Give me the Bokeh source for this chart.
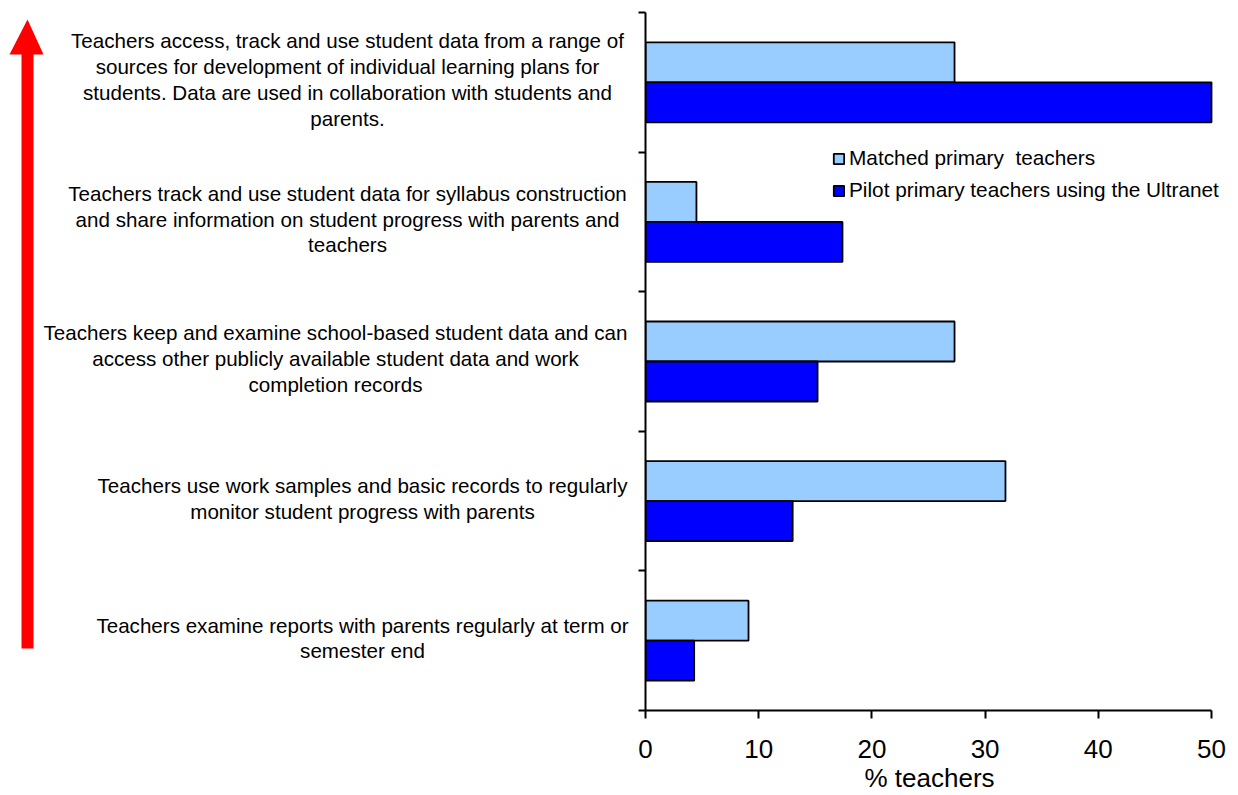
import numpy as np
from bokeh.plotting import figure
from bokeh.layouts import row
from bokeh.models import (Range1d, FixedTicker, Legend, LegendItem, ColumnDataSource,
                          CustomJSTickFormatter, Title)
from bokeh.core.properties import value
from bokeh.embed import file_html
from bokeh.resources import INLINE

# Levels of data use, listed from the bottom of the chart to the top
categories = [
    "Teachers examine reports with parents regularly at term or\nsemester end",
    "Teachers use work samples and basic records to regularly\nmonitor student progress with parents",
    "Teachers keep and examine school-based student data and can\naccess other publicly available student data and work\ncompletion records",
    "Teachers track and use student data for syllabus construction\nand share information on student progress with parents and\nteachers",
    "Teachers access, track and use student data from a range of\nsources for development of individual learning plans for\nstudents. Data are used in collaboration with students and\nparents.",
]
matched = [9.1, 31.8, 27.3, 4.5, 27.3]
pilot = [4.3, 13.0, 15.2, 17.4, 50.0]
series_names = ["Matched primary  teachers", "Pilot primary teachers using the Ultranet"]
x_ticks = [0, 10, 20, 30, 40, 50]
x_title = "% teachers"

FONT = "Liberation Sans"
LIGHT = "#99CCFF"
DARK = "#0000FF"

W, H = 1238, 795
TOP, BOTTOM = 12, 85
AXIS_GAP = 12           # room kept for the y-axis ticks of the bar panel
LABEL_W = 645 - AXIS_GAP
RIGHT_PAD = 4
XMAX = 50
AXIS_PX = 566           # drawn length of the 0-50 axis
n = len(categories)
y_range = Range1d(0, n)

# the frame runs a little past 50 so the legend text is not cut
frame_w = W - LABEL_W - AXIS_GAP - RIGHT_PAD
x_end = XMAX * frame_w / AXIS_PX

# ---- bar panel -------------------------------------------------------------
p = figure(width=W - LABEL_W, height=H, x_range=Range1d(0, x_end), y_range=y_range,
           output_backend="svg", toolbar_location=None,
           min_border_left=AXIS_GAP, min_border_right=RIGHT_PAD,
           min_border_top=TOP, min_border_bottom=BOTTOM)
p.outline_line_color = None
p.grid.visible = False

# Two bars per level: matched above, pilot below the band centre
centers = np.arange(n) + 0.5
bar_h = 0.2865
src = ColumnDataSource(dict(
    y_m=centers + bar_h / 2, y_p=centers - bar_h / 2,
    matched=matched, pilot=pilot))
r_m = p.hbar(y="y_m", right="matched", left=0, height=bar_h, source=src,
             fill_color=LIGHT, line_color="black", line_width=1.8)
r_p = p.hbar(y="y_p", right="pilot", left=0, height=bar_h, source=src,
             fill_color=DARK, line_color="black", line_width=1.8)

xa = p.xaxis[0]
xa.ticker = FixedTicker(ticks=x_ticks)
xa.bounds = (0, XMAX)
xa.minor_tick_line_color = None
xa.major_tick_in = 0
xa.major_tick_out = 8
xa.axis_line_width = 2
xa.major_tick_line_width = 2
xa.axis_line_color = "black"
xa.major_tick_line_color = "black"
xa.major_label_text_font = FONT
xa.major_label_text_font_size = "26px"
xa.major_label_text_color = "black"
xa.major_label_standoff = 21

# axis title centred under the 0-50 span rather than under the whole frame
title_font_px = 26
title_w = 128
p.add_layout(Title(text=x_title, align="left",
                   offset=AXIS_PX / 2 - title_w / 2,
                   text_font=FONT, text_font_size=f"{title_font_px}px",
                   text_font_style="normal", text_color="black",
                   standoff=0), "below")

ya = p.yaxis[0]
ya.ticker = FixedTicker(ticks=list(range(n + 1)))
ya.formatter = CustomJSTickFormatter(code="return ''")
ya.minor_tick_line_color = None
ya.major_tick_in = 0
ya.major_tick_out = 7
ya.axis_line_width = 2
ya.major_tick_line_width = 2
ya.axis_line_color = "black"
ya.major_tick_line_color = "black"
ya.major_label_standoff = 0

legend = Legend(items=[LegendItem(label=series_names[0], renderers=[r_m]),
                       LegendItem(label=series_names[1], renderers=[r_p])],
                location=(187, 508), orientation="vertical")
legend.glyph_width = 13
legend.glyph_height = 13
legend.label_standoff = 4
legend.spacing = 8
legend.padding = 0
legend.margin = 0
legend.border_line_color = None
legend.background_fill_alpha = 0
legend.label_text_font = FONT
legend.label_text_font_size = "20.8px"
legend.label_text_color = "black"
legend.label_height = 24
p.add_layout(legend)

# ---- label panel -----------------------------------------------------------
q = figure(width=LABEL_W, height=H, x_range=Range1d(0, LABEL_W), y_range=y_range,
           output_backend="svg", toolbar_location=None,
           min_border_left=0, min_border_right=0,
           min_border_top=TOP, min_border_bottom=BOTTOM)
q.axis.visible = False
q.grid.visible = False
q.outline_line_color = None

# each label block is centred on its own column, right-aligned as a block
label_centers = [362, 362, 335, 347, 347]
q.text(x=label_centers, y=centers + 0.02, text=categories,
       text_align="center", text_baseline="middle",
       text_font=value(FONT), text_font_size="20.6px", text_color="black",
       text_line_height=1.12)

# red arrow pointing up along the left margin (page pixels -> panel data)
px_per_y = (H - TOP - BOTTOM) / n
def dy(py):
    return (H - BOTTOM - py) / px_per_y
ax = [21, 33, 33, 43, 27, 9, 21]
ay = [648, 648, 54, 54, 19, 54, 54]
q.patch(x=ax, y=[dy(v) for v in ay], fill_color="#FF0000", line_color=None)

layout = row(q, p, spacing=0)
open("out.html", "w").write(file_html(layout, INLINE))
